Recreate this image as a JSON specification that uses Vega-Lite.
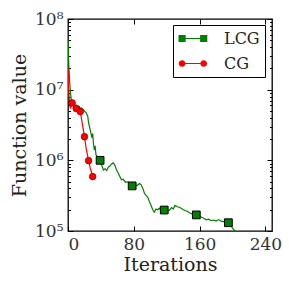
{
  "$schema": "https://vega.github.io/schema/vega-lite/v6.json",
  "width": 204,
  "height": 212,
  "autosize": "none",
  "padding": {"left": 68, "top": 19, "right": 17, "bottom": 60},
  "background": "white",
  "config": {
    "font": "DejaVu Serif",
    "view": {"stroke": "black", "strokeWidth": 1.3},
    "axis": {
      "grid": false,
      "domain": false,
      "labelFont": "DejaVu Serif",
      "titleFont": "DejaVu Serif",
      "labelColor": "#333",
      "titleColor": "#222",
      "titleFontWeight": "normal",
      "tickColor": "black",
      "tickWidth": 1
    }
  },
  "data": {
    "values": [
      {"s": "LCG", "it": 0, "v": 5e7, "m": 0},
      {"s": "LCG", "it": 1, "v": 2.2e7, "m": 0},
      {"s": "LCG", "it": 2, "v": 1.3e7, "m": 0},
      {"s": "LCG", "it": 3, "v": 9e6, "m": 0},
      {"s": "LCG", "it": 4, "v": 7.2e6, "m": 0},
      {"s": "LCG", "it": 5, "v": 6.6e6, "m": 0},
      {"s": "LCG", "it": 6, "v": 6.1e6, "m": 0},
      {"s": "LCG", "it": 7, "v": 5.9e6, "m": 0},
      {"s": "LCG", "it": 8, "v": 6.4e6, "m": 0},
      {"s": "LCG", "it": 9, "v": 5.7e6, "m": 0},
      {"s": "LCG", "it": 10, "v": 6.0e6, "m": 0},
      {"s": "LCG", "it": 11, "v": 5.6e6, "m": 0},
      {"s": "LCG", "it": 12, "v": 5.9e6, "m": 0},
      {"s": "LCG", "it": 13, "v": 5.4e6, "m": 0},
      {"s": "LCG", "it": 14, "v": 5.7e6, "m": 0},
      {"s": "LCG", "it": 15, "v": 5.2e6, "m": 0},
      {"s": "LCG", "it": 16, "v": 5.5e6, "m": 0},
      {"s": "LCG", "it": 18, "v": 5.3e6, "m": 0},
      {"s": "LCG", "it": 20, "v": 5.0e6, "m": 0},
      {"s": "LCG", "it": 22, "v": 4.7e6, "m": 0},
      {"s": "LCG", "it": 24, "v": 4.2e6, "m": 0},
      {"s": "LCG", "it": 25, "v": 3.4e6, "m": 0},
      {"s": "LCG", "it": 27, "v": 2.7e6, "m": 0},
      {"s": "LCG", "it": 29, "v": 2.1e6, "m": 0},
      {"s": "LCG", "it": 30, "v": 2.4e6, "m": 0},
      {"s": "LCG", "it": 31, "v": 1.7e6, "m": 0},
      {"s": "LCG", "it": 32, "v": 1.4e6, "m": 0},
      {"s": "LCG", "it": 33, "v": 1.6e6, "m": 0},
      {"s": "LCG", "it": 34, "v": 1.2e6, "m": 0},
      {"s": "LCG", "it": 36, "v": 1.1e6, "m": 0},
      {"s": "LCG", "it": 39, "v": 1.0e6, "m": 1},
      {"s": "LCG", "it": 41, "v": 8.5e5, "m": 0},
      {"s": "LCG", "it": 43, "v": 7.3e5, "m": 0},
      {"s": "LCG", "it": 45, "v": 7.6e5, "m": 0},
      {"s": "LCG", "it": 47, "v": 7.2e5, "m": 0},
      {"s": "LCG", "it": 49, "v": 8.0e5, "m": 0},
      {"s": "LCG", "it": 51, "v": 8.3e5, "m": 0},
      {"s": "LCG", "it": 53, "v": 8.9e5, "m": 0},
      {"s": "LCG", "it": 55, "v": 9.2e5, "m": 0},
      {"s": "LCG", "it": 57, "v": 8.5e5, "m": 0},
      {"s": "LCG", "it": 59, "v": 7.3e5, "m": 0},
      {"s": "LCG", "it": 61, "v": 6.6e5, "m": 0},
      {"s": "LCG", "it": 63, "v": 5.9e5, "m": 0},
      {"s": "LCG", "it": 65, "v": 5.3e5, "m": 0},
      {"s": "LCG", "it": 67, "v": 5.4e5, "m": 0},
      {"s": "LCG", "it": 70, "v": 4.9e5, "m": 0},
      {"s": "LCG", "it": 73, "v": 5.0e5, "m": 0},
      {"s": "LCG", "it": 75, "v": 4.6e5, "m": 0},
      {"s": "LCG", "it": 78, "v": 4.35e5, "m": 1},
      {"s": "LCG", "it": 81, "v": 4.5e5, "m": 0},
      {"s": "LCG", "it": 84, "v": 4.4e5, "m": 0},
      {"s": "LCG", "it": 87, "v": 4.7e5, "m": 0},
      {"s": "LCG", "it": 89, "v": 4.5e5, "m": 0},
      {"s": "LCG", "it": 91, "v": 4.0e5, "m": 0},
      {"s": "LCG", "it": 93, "v": 3.4e5, "m": 0},
      {"s": "LCG", "it": 95, "v": 3.2e5, "m": 0},
      {"s": "LCG", "it": 97, "v": 3.0e5, "m": 0},
      {"s": "LCG", "it": 99, "v": 2.6e5, "m": 0},
      {"s": "LCG", "it": 101, "v": 2.3e5, "m": 0},
      {"s": "LCG", "it": 103, "v": 2.0e5, "m": 0},
      {"s": "LCG", "it": 105, "v": 1.85e5, "m": 0},
      {"s": "LCG", "it": 107, "v": 2.05e5, "m": 0},
      {"s": "LCG", "it": 109, "v": 2.0e5, "m": 0},
      {"s": "LCG", "it": 111, "v": 2.1e5, "m": 0},
      {"s": "LCG", "it": 113, "v": 1.95e5, "m": 0},
      {"s": "LCG", "it": 117, "v": 1.98e5, "m": 1},
      {"s": "LCG", "it": 120, "v": 1.9e5, "m": 0},
      {"s": "LCG", "it": 123, "v": 1.95e5, "m": 0},
      {"s": "LCG", "it": 126, "v": 2.15e5, "m": 0},
      {"s": "LCG", "it": 128, "v": 2.05e5, "m": 0},
      {"s": "LCG", "it": 130, "v": 2.3e5, "m": 0},
      {"s": "LCG", "it": 133, "v": 2.2e5, "m": 0},
      {"s": "LCG", "it": 136, "v": 2.15e5, "m": 0},
      {"s": "LCG", "it": 139, "v": 2.05e5, "m": 0},
      {"s": "LCG", "it": 142, "v": 1.95e5, "m": 0},
      {"s": "LCG", "it": 145, "v": 1.9e5, "m": 0},
      {"s": "LCG", "it": 148, "v": 1.8e5, "m": 0},
      {"s": "LCG", "it": 151, "v": 1.75e5, "m": 0},
      {"s": "LCG", "it": 156, "v": 1.69e5, "m": 1},
      {"s": "LCG", "it": 159, "v": 1.62e5, "m": 0},
      {"s": "LCG", "it": 162, "v": 1.58e5, "m": 0},
      {"s": "LCG", "it": 165, "v": 1.52e5, "m": 0},
      {"s": "LCG", "it": 168, "v": 1.44e5, "m": 0},
      {"s": "LCG", "it": 171, "v": 1.47e5, "m": 0},
      {"s": "LCG", "it": 174, "v": 1.40e5, "m": 0},
      {"s": "LCG", "it": 177, "v": 1.43e5, "m": 0},
      {"s": "LCG", "it": 180, "v": 1.38e5, "m": 0},
      {"s": "LCG", "it": 183, "v": 1.45e5, "m": 0},
      {"s": "LCG", "it": 186, "v": 1.38e5, "m": 0},
      {"s": "LCG", "it": 189, "v": 1.36e5, "m": 0},
      {"s": "LCG", "it": 192, "v": 1.33e5, "m": 0},
      {"s": "LCG", "it": 195, "v": 1.31e5, "m": 1},
      {"s": "LCG", "it": 198, "v": 1.2e5, "m": 0},
      {"s": "LCG", "it": 200, "v": 1.1e5, "m": 0},
      {"s": "LCG", "it": 203, "v": 1.0e5, "m": 0},
      {"s": "CG", "it": 0, "v": 2e7, "m": 0},
      {"s": "CG", "it": 1, "v": 9e6, "m": 0},
      {"s": "CG", "it": 2, "v": 6.2e6, "m": 0},
      {"s": "CG", "it": 3, "v": 5.4e6, "m": 0},
      {"s": "CG", "it": 4, "v": 6.0e6, "m": 0},
      {"s": "CG", "it": 5, "v": 6.5e6, "m": 1},
      {"s": "CG", "it": 7, "v": 5.9e6, "m": 0},
      {"s": "CG", "it": 10, "v": 5.4e6, "m": 1},
      {"s": "CG", "it": 12, "v": 5.2e6, "m": 0},
      {"s": "CG", "it": 15, "v": 4.9e6, "m": 1},
      {"s": "CG", "it": 17, "v": 3.5e6, "m": 0},
      {"s": "CG", "it": 20, "v": 2.16e6, "m": 1},
      {"s": "CG", "it": 22, "v": 1.5e6, "m": 0},
      {"s": "CG", "it": 25, "v": 9.9e5, "m": 1},
      {"s": "CG", "it": 27, "v": 7.8e5, "m": 0},
      {"s": "CG", "it": 30, "v": 5.9e5, "m": 1}
    ]
  },
  "layer": [
    {
      "transform": [{"filter": "datum.s == 'LCG'"}],
      "mark": {"type": "line", "color": "#008000", "strokeWidth": 1.2, "clip": true},
      "encoding": {
        "x": {"field": "it", "type": "quantitative", "scale": {"domain": [0, 248], "nice": false, "zero": false},
          "axis": {"orient": "bottom", "values": [0, 80, 160, 240], "tickSize": -5, "labelFontSize": 17, "labelPadding": 10, "title": "Iterations", "titleFontSize": 19, "titlePadding": 3}},
        "y": {"field": "v", "type": "quantitative", "scale": {"type": "log", "domain": [1e5, 1e8], "nice": false},
          "axis": {"orient": "left", "values": [1e5, 1e6, 1e7, 1e8], "tickSize": -5, "labelFontSize": 17, "labelPadding": 10,
            "labelExpr": "datum.value >= 5e7 ? '10⁸' : datum.value >= 5e6 ? '10⁷' : datum.value >= 5e5 ? '10⁶' : '10⁵'",
            "title": "Function value", "titleFontSize": 19, "titlePadding": 5}}
      }
    },
    {
      "transform": [{"filter": "datum.s == 'LCG' && datum.m == 1"}],
      "mark": {"type": "point", "shape": "square", "filled": true, "fill": "#008000", "stroke": "black", "strokeWidth": 1, "size": 60, "opacity": 1},
      "encoding": {
        "x": {"field": "it", "type": "quantitative", "scale": {"domain": [0, 248], "nice": false, "zero": false},
          "axis": {"orient": "top", "values": [0, 80, 160, 240], "tickSize": -5, "labels": false, "title": null}},
        "y": {"field": "v", "type": "quantitative", "scale": {"type": "log", "domain": [1e5, 1e8], "nice": false},
          "axis": {"orient": "right", "values": [1e5, 1e6, 1e7, 1e8], "tickSize": -5, "labels": false, "title": null}}
      }
    },
    {
      "transform": [{"filter": "datum.s == 'CG'"}],
      "mark": {"type": "line", "color": "#ff0000", "strokeWidth": 1.2, "clip": true},
      "encoding": {
        "x": {"field": "it", "type": "quantitative", "scale": {"domain": [0, 248], "nice": false, "zero": false}, "axis": null},
        "y": {"field": "v", "type": "quantitative", "scale": {"type": "log", "domain": [1e5, 1e8], "nice": false},
          "axis": {"orient": "left", "values": [2e5, 3e5, 4e5, 5e5, 6e5, 7e5, 8e5, 9e5, 2e6, 3e6, 4e6, 5e6, 6e6, 7e6, 8e6, 9e6, 2e7, 3e7, 4e7, 5e7, 6e7, 7e7, 8e7, 9e7], "tickSize": -2.5, "labels": false, "title": null}}
      }
    },
    {
      "transform": [{"filter": "datum.s == 'CG' && datum.m == 1"}],
      "mark": {"type": "point", "shape": "circle", "filled": true, "fill": "#ff0000", "stroke": "#700000", "strokeWidth": 0.6, "size": 45, "opacity": 1},
      "encoding": {
        "x": {"field": "it", "type": "quantitative", "scale": {"domain": [0, 248], "nice": false, "zero": false}, "axis": null},
        "y": {"field": "v", "type": "quantitative", "scale": {"type": "log", "domain": [1e5, 1e8], "nice": false},
          "axis": {"orient": "right", "values": [2e5, 3e5, 4e5, 5e5, 6e5, 7e5, 8e5, 9e5, 2e6, 3e6, 4e6, 5e6, 6e6, 7e6, 8e6, 9e6, 2e7, 3e7, 4e7, 5e7, 6e7, 7e7, 8e7, 9e7], "tickSize": -2.5, "labels": false, "title": null}}
      }
    },
    {
      "transform": [{"filter": "datum.it == 0"}],
      "mark": {"type": "point", "filled": true, "opacity": 0},
      "encoding": {
        "fill": {"field": "s", "type": "nominal", "scale": {"domain": ["LCG", "CG"], "range": ["#008000", "#ff0000"]},
          "legend": {"orient": "none", "legendX": 105, "legendY": 6, "title": null, "strokeColor": "black", "padding": 5, "cornerRadius": 0, "fillColor": "white",
            "labelFont": "DejaVu Serif", "labelFontSize": 16, "labelColor": "#222", "labelOffset": 29, "rowPadding": 8, "symbolSize": 256, "symbolOpacity": 1, "symbolStrokeColor": "black", "symbolStrokeWidth": 0.5}},
        "shape": {"field": "s", "type": "nominal", "scale": {"domain": ["LCG", "CG"], "range": [
            "M-1,-0.45H-0.1V0.45H-1Z M-0.1,-0.05H1.7V0.05H-0.1Z M1.7,-0.45H2.6V0.45H1.7Z",
            "M-0.97,0A0.42,0.42 0 1,0 -0.13,0A0.42,0.42 0 1,0 -0.97,0Z M-0.13,-0.05H1.73V0.05H-0.13Z M1.73,0A0.42,0.42 0 1,0 2.57,0A0.42,0.42 0 1,0 1.73,0Z"]},
          "legend": {"orient": "none", "legendX": 105, "legendY": 6, "title": null, "strokeColor": "black", "padding": 5, "cornerRadius": 0, "fillColor": "white",
            "labelFont": "DejaVu Serif", "labelFontSize": 16, "labelColor": "#222", "labelOffset": 29, "rowPadding": 8, "symbolSize": 256, "symbolOpacity": 1, "symbolStrokeColor": "black", "symbolStrokeWidth": 0.5}}
      }
    }
  ],
  "resolve": {"axis": {"x": "independent", "y": "independent"}, "scale": {"fill": "independent", "shape": "independent"}}
}
